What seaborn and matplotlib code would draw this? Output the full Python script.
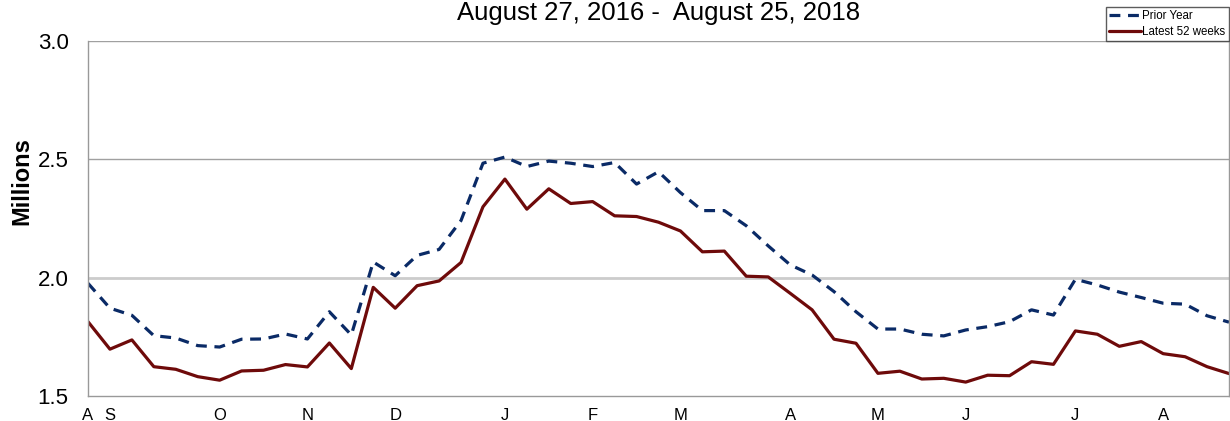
import numpy as np
import pandas as pd
import matplotlib
matplotlib.use("Agg")
import matplotlib.pyplot as plt
import seaborn as sns

# ---- data ----
weeks = list(range(53))
prior_year = [1.977, 1.872, 1.842, 1.756, 1.746, 1.714, 1.708, 1.741, 1.742, 1.763,
              1.742, 1.857, 1.759, 2.067, 2.009, 2.095, 2.120, 2.242, 2.484, 2.510,
              2.470, 2.493, 2.484, 2.470, 2.487, 2.396, 2.448, 2.360, 2.284, 2.284,
              2.220, 2.135, 2.055, 2.012, 1.942, 1.857, 1.784, 1.784, 1.762, 1.755,
              1.780, 1.794, 1.815, 1.865, 1.843, 1.994, 1.970, 1.940, 1.917, 1.893,
              1.889, 1.840, 1.813]
latest = [1.815, 1.699, 1.738, 1.625, 1.614, 1.583, 1.568, 1.607, 1.610, 1.634,
          1.624, 1.725, 1.617, 1.960, 1.872, 1.967, 1.987, 2.065, 2.300, 2.417,
          2.290, 2.376, 2.314, 2.322, 2.262, 2.259, 2.235, 2.198, 2.110, 2.113,
          2.007, 2.004, 1.935, 1.865, 1.741, 1.724, 1.597, 1.606, 1.573, 1.576,
          1.560, 1.589, 1.587, 1.646, 1.635, 1.776, 1.762, 1.711, 1.731, 1.680,
          1.667, 1.625, 1.596]
month_pos = [0, 1, 6, 10, 14, 19, 23, 27, 32, 36, 40, 45, 49]
month_labels = ["A", "S", "O", "N", "D", "J", "F", "M", "A", "M", "J", "J", "A"]
y_ticks = [1.5, 2.0, 2.5, 3.0]
title = "August 27, 2016 -  August 25, 2018"
series_names = ["Prior Year", "Latest 52 weeks"]

df = pd.DataFrame({
    "week": weeks * 2,
    "value": prior_year + latest,
    "series": [series_names[0]] * len(weeks) + [series_names[1]] * len(weeks),
})

sns.set_style("white")
plt.rcParams["font.family"] = ["Liberation Sans", "DejaVu Sans"]
plt.rcParams["text.color"] = "black"
plt.rcParams["xtick.labelcolor"] = "black"
plt.rcParams["ytick.labelcolor"] = "black"

W, H = 1230, 421
fig = plt.figure(figsize=(W / 100, H / 100), dpi=100)
ax = fig.add_axes([88 / W, 1 - 396.3 / H, (1229 - 88) / W, (396.3 - 41) / H])

palette = {series_names[0]: "#0a2a66", series_names[1]: "#6e0a0a"}
sns.lineplot(data=df[df.series == series_names[0]], x="week", y="value",
             color=palette[series_names[0]], lw=2.3, ax=ax,
             linestyle=(0, (3.4, 2.4)), label=series_names[0], legend=False)
sns.lineplot(data=df[df.series == series_names[1]], x="week", y="value",
             color=palette[series_names[1]], lw=2.3, ax=ax,
             label=series_names[1], legend=False)

ax.set_xlim(0, 52)
ax.set_ylim(1.5, 3.0)

# gridlines
for yv in y_ticks[1:]:
    if yv == 2.0:
        ax.axhline(yv, color="#cccccc", lw=2.0, zorder=0)
    else:
        ax.axhline(yv, color="#a0a0a0", lw=1.0, zorder=0)

for side in ["left", "bottom", "right"]:
    ax.spines[side].set_color("#999999")
    ax.spines[side].set_linewidth(1.0)
ax.spines["top"].set_visible(False)

ax.set_yticks(y_ticks)
ax.set_yticklabels([f"{v:.1f}" for v in y_ticks], fontsize=16)
ax.tick_params(axis="y", direction="out", length=6, width=1, color="#999999",
               labelcolor="black", pad=8)

ax.set_xticks(weeks)
labels = [""] * len(weeks)
for p, l in zip(month_pos, month_labels):
    labels[p] = l
ax.set_xticklabels(labels, fontsize=12)
ax.tick_params(axis="x", direction="out", length=5, width=1, color="#999999",
               labelcolor="black", pad=3.5)

ax.set_xlabel("")
ax.set_ylabel("")
fig.text(21.7 / W, 1 - 181 / H, "Millions", rotation=90, fontsize=17, fontweight="bold",
         ha="center", va="center", color="black")
ax.set_title(title, fontsize=18.5, pad=15, color="black")

handles, lbls = ax.get_legend_handles_labels()
leg = fig.legend(handles, lbls, loc="upper right", bbox_to_anchor=(1229 / W, 1 - 7 / H),
                 fontsize=8.3, frameon=True, fancybox=False, shadow=False,
                 handlelength=2.8, handletextpad=0.1, borderpad=0.3, labelspacing=0.3,
                 borderaxespad=0)
leg.get_frame().set_edgecolor("#333333")
leg.get_frame().set_linewidth(1.0)
for t in leg.get_texts():
    t.set_color("black")

fig.savefig("out.png", dpi=100)
